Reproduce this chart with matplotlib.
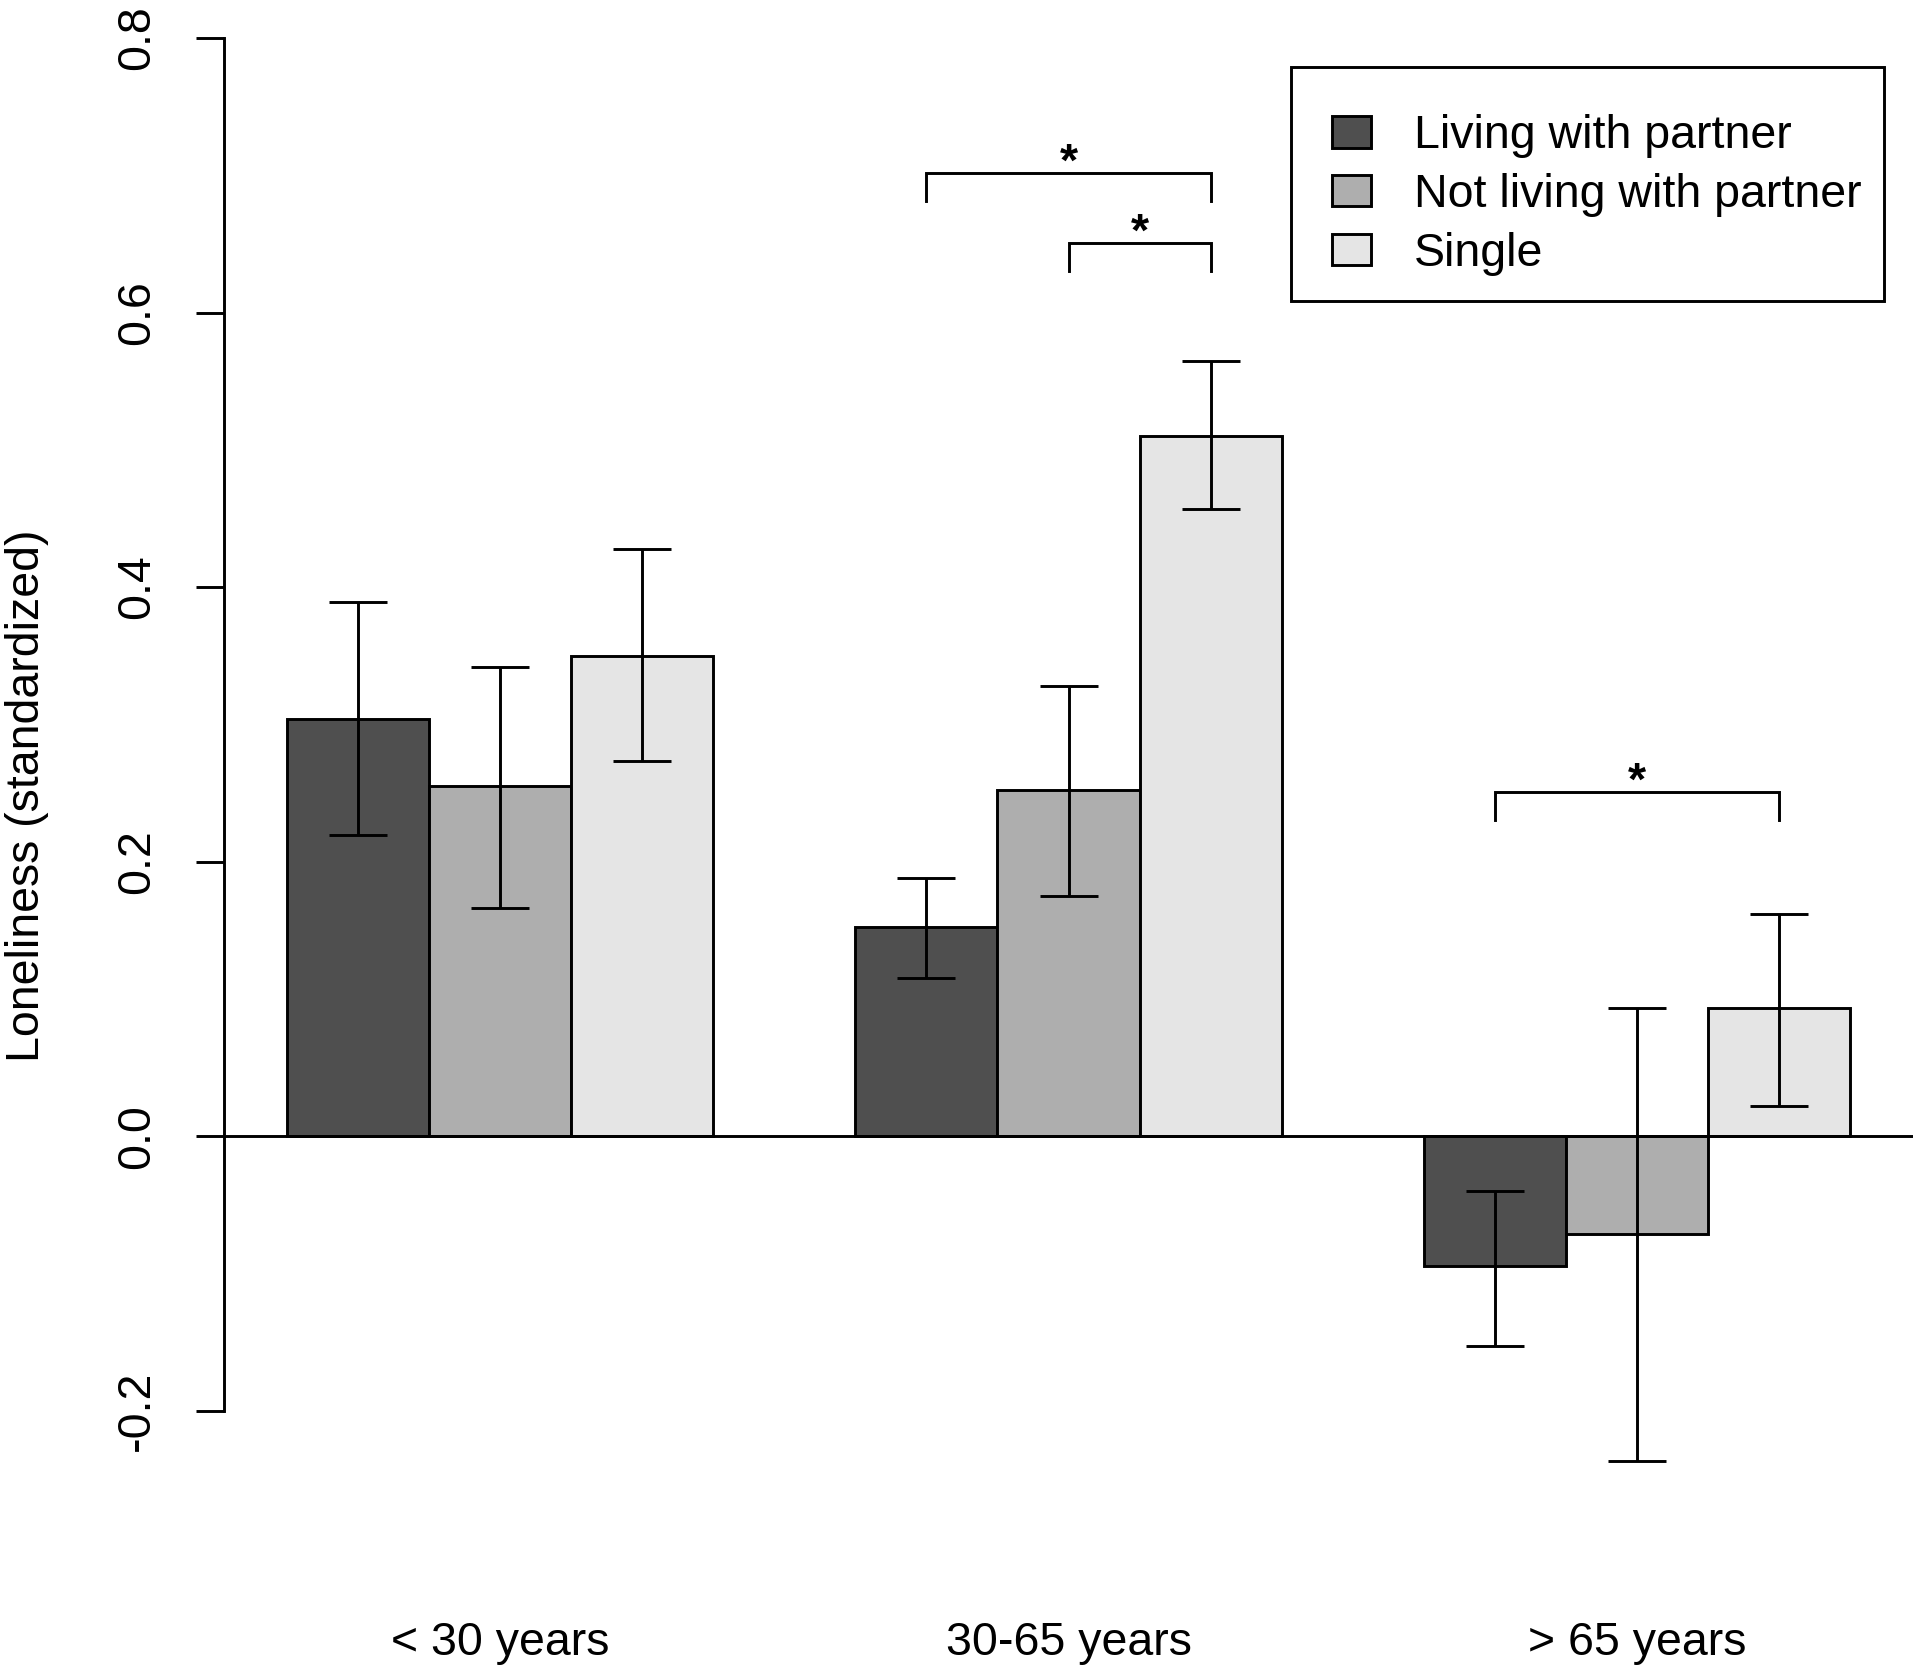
import matplotlib
matplotlib.use('Agg')
import matplotlib.pyplot as plt
from matplotlib.patches import Rectangle, Patch
import numpy as np

plt.rcParams['font.family'] = ['Liberation Sans', 'DejaVu Sans']

# ---- data ----
age_groups = ['< 30 years', '30-65 years', '> 65 years']
statuses = ['Living with partner', 'Not living with partner', 'Single']
colors = ['#4f4f4f', '#aeaeae', '#e5e5e5']

living_with_partner = [0.304, 0.152, -0.095]
not_living_with_partner = [0.255, 0.252, -0.071]
single = [0.350, 0.510, 0.093]

lwp_lower = [0.219, 0.115, -0.153]
lwp_upper = [0.389, 0.188, -0.040]
nlwp_lower = [0.166, 0.175, -0.237]
nlwp_upper = [0.342, 0.328, 0.093]
single_lower = [0.273, 0.457, 0.022]
single_upper = [0.428, 0.565, 0.162]

# significance brackets: (group index, bar a, bar b, bracket height)
sig_groups = [1, 1, 2]
sig_bar_a = [0, 1, 0]
sig_bar_b = [2, 2, 2]
sig_heights = [0.702, 0.651, 0.251]
sig_labels = ['*', '*', '*']

yticks = [-0.2, 0.0, 0.2, 0.4, 0.6, 0.8]
ytick_labels = ['-0.2', '0.0', '0.2', '0.4', '0.6', '0.8']

means = [living_with_partner, not_living_with_partner, single]
lowers = [lwp_lower, nlwp_lower, single_lower]
uppers = [lwp_upper, nlwp_upper, single_upper]

W, H = 1920, 1675
DPI = 100
FS = 33.5
LW = 2.1

fig = plt.figure(figsize=(W / DPI, H / DPI), dpi=DPI)
ax_left, ax_right = 224, 1913
ax_top, ax_bottom = 0, 1465.5
ax = fig.add_axes([ax_left / W, 1 - ax_bottom / H, (ax_right - ax_left) / W, (ax_bottom - ax_top) / H])

n_groups = len(age_groups)
n_bars = len(statuses)


def bar_center(g, i):
    return 1 + g * (n_bars + 1) + i + 0.5


for i in range(n_bars):
    xs = [bar_center(g, i) for g in range(n_groups)]
    m = np.array(means[i])
    lo = np.array(lowers[i])
    up = np.array(uppers[i])
    ax.bar(xs, m, width=1.0, color=colors[i], edgecolor='black', linewidth=LW, zorder=2)
    ax.errorbar(xs, m, yerr=[m - lo, up - m], fmt='none', ecolor='black',
                elinewidth=LW, capsize=21, capthick=LW, zorder=4)

ax.axhline(0, color='black', linewidth=LW, zorder=3)

# significance brackets
drop = 0.021
for g, a, b, h, lab in zip(sig_groups, sig_bar_a, sig_bar_b, sig_heights, sig_labels):
    xa, xb = bar_center(g, a), bar_center(g, b)
    ax.plot([xa, xa, xb, xb], [h - drop, h, h, h - drop], color='black', linewidth=LW,
            solid_joinstyle='miter', zorder=4)
    ax.text((xa + xb) / 2, h - 0.002, lab, ha='center', va='baseline', fontsize=FS,
            fontweight='bold')

ax.set_xlim(0.56, 12.44)
ax.set_ylim(-0.24, 0.8277)

for s in ['top', 'right', 'bottom']:
    ax.spines[s].set_visible(False)
ax.spines['left'].set_bounds(-0.2, 0.8)
ax.spines['left'].set_linewidth(LW)

ax.set_yticks(yticks)
ax.set_yticklabels(ytick_labels, rotation=90, va='center', fontsize=FS)
ax.tick_params(axis='y', length=20, width=LW, pad=27)

ax.set_xticks([bar_center(g, 1) for g in range(n_groups)])
ax.set_xticklabels(age_groups, fontsize=FS)
ax.tick_params(axis='x', length=0, pad=112)

fig.text(27 / W, 1 - 796 / H, 'Loneliness (standardized)', rotation=90,
         ha='center', va='center', fontsize=FS)

# legend
handles = [Patch(facecolor=c, edgecolor='black', linewidth=LW) for c in colors]
leg = fig.legend(handles, statuses, loc='upper left',
                 bbox_to_anchor=(1332 / W, 1 - 114 / H), frameon=False,
                 fontsize=FS, borderpad=0, borderaxespad=0,
                 handlelength=0.84, handleheight=0.67, handletextpad=0.92,
                 labelspacing=0.32)
fig.patches.append(Rectangle((1291 / W, 1 - 301 / H), 593 / W, 234 / H,
                             transform=fig.transFigure, fill=False,
                             edgecolor='black', linewidth=LW))

fig.savefig('out.png', dpi=DPI)
